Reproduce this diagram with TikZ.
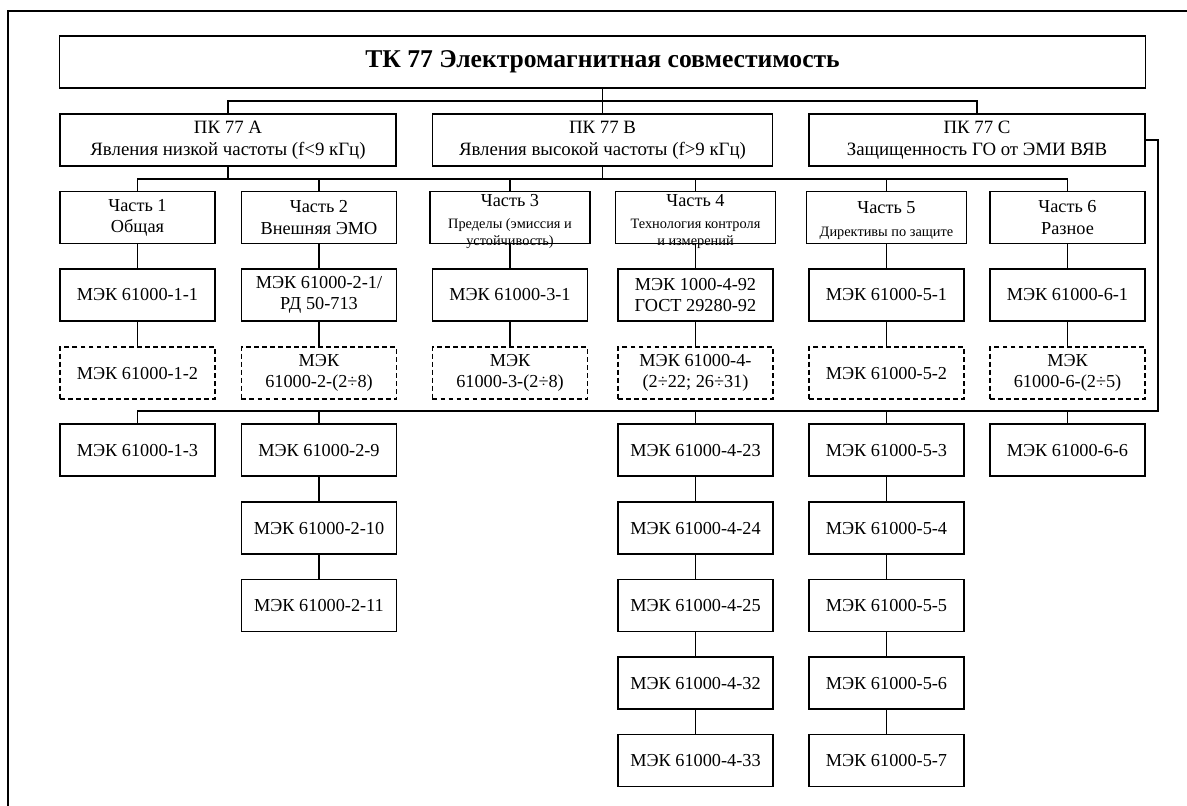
\documentclass[tikz,border=0pt]{standalone}
\usepackage{fontspec}
\setmainfont{Liberation Serif}
\newcommand\smallfnt{\fontsize{10.2}{12.5}\selectfont}

\begin{document}
\begin{tikzpicture}[x=0.025cm, y=-0.025cm,
    box/.style={draw, line width=0.9pt, minimum width=3.875cm, minimum height=1.3cm,
        inner sep=0pt, align=center, font=\fontsize{13}{15}\selectfont},
    dbox/.style={box, dash pattern=on 3.5pt off 2.2pt},
    pkbox/.style={box, minimum width=8.4cm, font=\fontsize{13.4}{15.5}\selectfont},
    link/.style={line width=0.9pt}]
\useasboundingbox (0,0) rectangle (1187,805);
\clip (0,0) rectangle (1187,805);
\draw[line width=0.9pt] (8,11) rectangle (1200,820);

% committee and subcommittees
\node[box, minimum width=27.125cm, font=\bfseries\fontsize{18.2}{20}\selectfont] (tk) at (602.5,62) {ТК 77 Электромагнитная совместимость};
\node[pkbox] (pka) at (228,140) {ПК 77 А\\Явления низкой частоты (f<9 кГц)};
\node[pkbox, minimum width=8.5cm] (pkb) at (602.5,140) {ПК 77 В\\Явления высокой частоты (f>9 кГц)};
\node[pkbox] (pkc) at (977,140) {ПК 77 С\\Защищенность ГО от ЭМИ ВЯВ};

% parts
\node[box] (p1) at (137.5,217.5) {Часть 1\\Общая};
\node[box] (p2) at (319,217.5) {Часть 2\\Внешняя ЭМО};
\node[box] (p3) at (510,217.5) {\raisebox{-6pt}[0pt][0pt]{\parbox{4cm}{\centering Часть 3\\[3pt]\smallfnt Пределы (эмиссия и\\устойчивость)}}};
\node[box] (p4) at (695.5,217.5) {\raisebox{-6pt}[0pt][0pt]{\parbox{4cm}{\centering Часть 4\\[3pt]\smallfnt Технология контроля\\и измерений}}};
\node[box] (p5) at (886.5,217.5) {\raisebox{-5pt}[0pt][0pt]{\parbox{4cm}{\centering Часть 5\\[4pt]\smallfnt Директивы по защите}}};
\node[box] (p6) at (1067.5,217.5) {Часть 6\\Разное};

% first standards
\node[box] (m11) at (137.5,295) {МЭК 61000-1-1};
\node[box] (m21) at (319,295) {МЭК 61000-2-1/\\РД 50-713};
\node[box] (m31) at (510,295) {МЭК 61000-3-1};
\node[box] (m41) at (695.5,295) {МЭК 1000-4-92\\ГОСТ 29280-92};
\node[box] (m51) at (886.5,295) {МЭК 61000-5-1};
\node[box] (m61) at (1067.5,295) {МЭК 61000-6-1};

% planned standards
\node[dbox] (m12) at (137.5,373) {МЭК 61000-1-2};
\node[dbox] (m22) at (319,373) {МЭК\\61000-2-(2÷8)};
\node[dbox] (m32) at (510,373) {МЭК\\61000-3-(2÷8)};
\node[dbox] (m42) at (695.5,373) {МЭК 61000-4-\\(2÷22; 26÷31)};
\node[dbox] (m52) at (886.5,373) {МЭК 61000-5-2};
\node[dbox] (m62) at (1067.5,373) {МЭК\\61000-6-(2÷5)};

% lower rows
\node[box] (m13) at (137.5,450) {МЭК 61000-1-3};
\node[box] (m29) at (319,450) {МЭК 61000-2-9};
\node[box] (m210) at (319,528) {МЭК 61000-2-10};
\node[box] (m211) at (319,605.5) {МЭК 61000-2-11};
\node[box] (m423) at (695.5,450) {МЭК 61000-4-23};
\node[box] (m424) at (695.5,528) {МЭК 61000-4-24};
\node[box] (m425) at (695.5,605.5) {МЭК 61000-4-25};
\node[box] (m432) at (695.5,683) {МЭК 61000-4-32};
\node[box] (m433) at (695.5,760.5) {МЭК 61000-4-33};
\node[box] (m53) at (886.5,450) {МЭК 61000-5-3};
\node[box] (m54) at (886.5,528) {МЭК 61000-5-4};
\node[box] (m55) at (886.5,605.5) {МЭК 61000-5-5};
\node[box] (m56) at (886.5,683) {МЭК 61000-5-6};
\node[box] (m57) at (886.5,760.5) {МЭК 61000-5-7};
\node[box] (m66) at (1067.5,450) {МЭК 61000-6-6};

% connectors
\coordinate (bus1) at (602.5,101);
\coordinate (bus2) at (602.5,179);
\coordinate (bus3) at (1158,411);
\draw[link] (tk.south) -- (pkb.north);
\draw[link] (pka.north) |- (bus1) -| (pkc.north);
\draw[link] (p1.north) |- (bus2) -| (p6.north);
\draw[link] (pka.south) -- (pka.south |- bus2);
\draw[link] (pkb.south) -- (bus2);
\foreach \n in {p2,p3,p4,p5}
    \draw[link] (\n.north) -- (\n.north |- bus2);
\foreach \a/\b in {p1/m11, m11/m12, p2/m21, m21/m22, p3/m31, m31/m32,
        p4/m41, m41/m42, p5/m51, m51/m52, p6/m61, m61/m62,
        m29/m210, m210/m211, m423/m424, m424/m425, m425/m432, m432/m433,
        m53/m54, m54/m55, m55/m56, m56/m57}
    \draw[link] (\a) -- (\b);
\draw[link] (pkc.east) -| (bus3) -| (m13.north);
\foreach \n in {m29,m423,m53,m66}
    \draw[link] (\n.north) -- (\n.north |- bus3);
\end{tikzpicture}
\end{document}
